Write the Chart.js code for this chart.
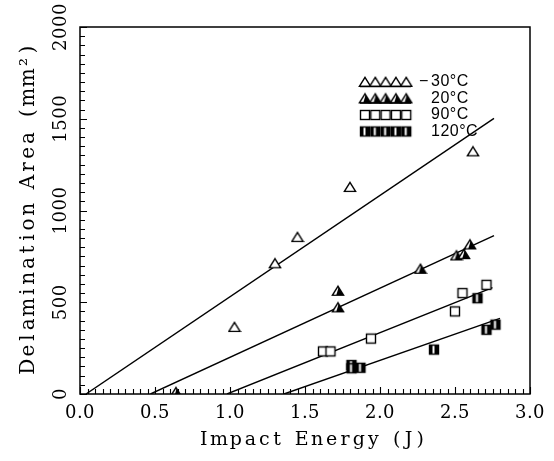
<!DOCTYPE html>
<html><head><meta charset="utf-8">
<script src="https://cdn.jsdelivr.net/npm/chart.js@4"></script>
<style>html,body{margin:0;padding:0;background:#fff}</style>
</head><body>
<canvas id="c" width="554" height="461" style="width:554px;height:461px;display:block"></canvas>
<script>
// ---- data ----
const seriesLabels = ['−30°C', '20°C', '90°C', '120°C'];
const xTitle = 'Impact Energy (J)';
const yTitle = 'Delamination Area (mm²)';

const energyM30 = [1.03, 1.30, 1.45, 1.80, 2.62];
const areaM30   = [365, 712, 855, 1128, 1322];

const energy20 = [0.64, 1.72, 1.72, 2.27, 2.51, 2.56, 2.60];
const area20   = [10, 562, 472, 682, 755, 762, 815];

const energy90 = [1.62, 1.67, 1.94, 2.50, 2.55, 2.71];
const area90   = [232, 232, 302, 450, 550, 595];

const energy120 = [1.81, 1.81, 1.87, 2.36, 2.65, 2.71, 2.77];
const area120   = [158, 140, 143, 242, 522, 350, 378];

// fitted lines (end points)
const fitEnergyM30 = [0.04, 2.76], fitAreaM30 = [0, 1502];
const fitEnergy20  = [0.47, 2.76], fitArea20  = [0, 863];
const fitEnergy90  = [0.98, 2.75], fitArea90  = [0, 580];
const fitEnergy120 = [1.36, 2.80], fitArea120 = [0, 412];

const xTickValues = [0, 0.5, 1.0, 1.5, 2.0, 2.5, 3.0];
const yTickValues = [0, 500, 1000, 1500, 2000];

// ---- marker images ----
function makeMarker(kind) {
  const s = 14, c = document.createElement('canvas');
  c.width = s; c.height = s;
  const g = c.getContext('2d');
  g.lineWidth = 1.4; g.strokeStyle = '#000'; g.lineJoin = 'miter';
  if (kind === 'openTri' || kind === 'fillTri') {
    g.beginPath(); g.moveTo(7, 2.3); g.lineTo(12.6, 11.4); g.lineTo(1.4, 11.4); g.closePath();
    g.fillStyle = '#fff'; g.fill(); g.stroke();
    if (kind === 'fillTri') {
      g.beginPath(); g.moveTo(7.6, 3.5); g.lineTo(12.4, 11.4); g.lineTo(5.2, 11.4); g.closePath();
      g.fillStyle = '#000'; g.fill();
    }
  } else {
    g.fillStyle = '#fff'; g.fillRect(2.5, 2.5, 9, 9); g.strokeRect(2.5, 2.5, 9, 9);
    if (kind === 'halfSq') {
      g.fillStyle = '#000'; g.fillRect(2.5, 2.5, 3, 9); g.fillRect(7.5, 2.5, 4, 9);
    }
  }
  return c;
}
const mOpenTri = makeMarker('openTri'), mFillTri = makeMarker('fillTri');
const mOpenSq = makeMarker('openSq'), mHalfSq = makeMarker('halfSq');
const markers = [mOpenTri, mFillTri, mOpenSq, mHalfSq];

const pts = (xs, ys) => xs.map((x, i) => ({x, y: ys[i]}));
const scatterDs = (label, xs, ys, m) => ({
  label, data: pts(xs, ys), showLine: false, pointStyle: m, pointRadius: 6, pointHoverRadius: 6,
  borderColor: '#000', backgroundColor: '#000'
});
const lineDs = (xs, ys) => ({
  label: '', data: pts(xs, ys), showLine: true, pointRadius: 0, borderColor: '#000',
  borderWidth: 1.4, fill: false, tension: 0
});

const FONT = '"DejaVu Serif", serif';

// draw text with typewriter-like spacing (half monospace, half proportional),
// stretched to a given total length, centred at (0,0) of the current transform
function drawSpaced(ctx, text, total) {
  const chars = Array.from(text);
  const w = chars.map(ch => ctx.measureText(ch).width);
  const avg = w.reduce((s, v) => s + v, 0) / w.length;
  const adv = w.map(v => 0.5 * v + 0.5 * avg);
  const sum = adv.reduce((s, v) => s + v, 0);
  const k = total / sum;
  ctx.textAlign = 'center';
  let pos = -total / 2;
  chars.forEach((ch, i) => {
    const a = adv[i] * k;
    ctx.fillText(ch, pos + a / 2, 0);
    pos += a;
  });
}

const frameAndTicks = {
  id: 'frameAndTicks',
  beforeDraw(chart) { chart.ctx.letterSpacing = '0.5px'; },
  afterDraw(chart) {
    const {ctx, chartArea: a, scales: {x, y}} = chart;
    ctx.save();
    ctx.strokeStyle = '#000';
    ctx.lineWidth = 1.5;
    ctx.strokeRect(a.left, a.top, a.right - a.left, a.bottom - a.top);
    ctx.lineWidth = 1.1;
    ctx.beginPath();
    for (let i = 0; i <= 60; i++) {
      const px = Math.round(x.getPixelForValue(i * 0.05)) + 0.5;
      const len = i % 10 === 0 ? 7 : 5;
      ctx.moveTo(px, a.bottom); ctx.lineTo(px, a.bottom - len);
    }
    for (let i = 0; i <= 40; i++) {
      const py = Math.round(y.getPixelForValue(i * 50)) + 0.5;
      const len = i % 10 === 0 ? 7 : 5;
      ctx.moveTo(a.left, py); ctx.lineTo(a.left + len, py);
    }
    ctx.stroke();

    // axis titles
    ctx.fillStyle = '#000';
    ctx.letterSpacing = '0px';
    ctx.textBaseline = 'middle';
    ctx.font = '19px ' + FONT;
    ctx.save();
    ctx.translate((a.left + a.right) / 2 + 7, 440);
    drawSpaced(ctx, xTitle, 228);
    ctx.restore();
    ctx.save();
    ctx.translate(29, (a.top + a.bottom) / 2 - 1);
    ctx.rotate(-Math.PI / 2);
    ctx.font = '20px ' + FONT;
    drawSpaced(ctx, yTitle, 332);
    ctx.restore();

    // legend
    ctx.letterSpacing = '0.5px';
    const lx = 360, ly0 = 82, dy = 16.5;
    for (let i = 0; i < 4; i++) {
      const yy = ly0 + i * dy;
      for (let k = 0; k < 5; k++) {
        ctx.drawImage(markers[i], lx + k * 10.3 - 2, yy - 7);
      }
      if (i < 2) {
        ctx.lineWidth = 1.3;
        ctx.beginPath(); ctx.moveTo(lx, yy + 4.5); ctx.lineTo(lx + 51, yy + 4.5); ctx.stroke();
      }
      ctx.fillStyle = '#000';
      ctx.font = '16px "Liberation Sans", sans-serif';
      ctx.textBaseline = 'middle';
      ctx.textAlign = 'left';
      let t = seriesLabels[i];
      if (t.startsWith('−')) {
        ctx.fillText('−', 419, yy);
        t = t.slice(1);
      }
      ctx.fillText(t, 431, yy);
    }
    ctx.restore();
  }
};

new Chart(document.getElementById('c'), {
  type: 'scatter',
  data: {
    datasets: [
      scatterDs(seriesLabels[0], energyM30, areaM30, mOpenTri),
      scatterDs(seriesLabels[1], energy20, area20, mFillTri),
      scatterDs(seriesLabels[2], energy90, area90, mOpenSq),
      scatterDs(seriesLabels[3], energy120, area120, mHalfSq),
      lineDs(fitEnergyM30, fitAreaM30),
      lineDs(fitEnergy20, fitArea20),
      lineDs(fitEnergy90, fitArea90),
      lineDs(fitEnergy120, fitArea120)
    ]
  },
  options: {
    responsive: false,
    animation: false,
    events: [],
    layout: {padding: {left: 0, right: 24, top: 27, bottom: 0}},
    plugins: {legend: {display: false}, tooltip: {enabled: false}},
    scales: {
      x: {
        type: 'linear', min: 0, max: 3,
        afterFit(s) { s.height = 67; },
        afterBuildTicks(s) { s.ticks = xTickValues.map(v => ({value: v})); },
        grid: {display: false, drawTicks: false},
        border: {display: false},
        ticks: {
          padding: 9, color: '#000', font: {family: FONT, size: 18},
          callback: v => v.toFixed(1)
        },
        title: {display: false}
      },
      y: {
        type: 'linear', min: 0, max: 2000,
        afterFit(s) { s.width = 80; },
        afterBuildTicks(s) { s.ticks = yTickValues.map(v => ({value: v})); },
        grid: {display: false, drawTicks: false},
        border: {display: false},
        ticks: {
          padding: -4, color: '#000', font: {family: FONT, size: 18},
          minRotation: 90, maxRotation: 90, crossAlign: 'center',
          callback: v => String(v)
        },
        title: {display: false}
      }
    }
  },
  plugins: [frameAndTicks]
});
</script>
</body></html>
